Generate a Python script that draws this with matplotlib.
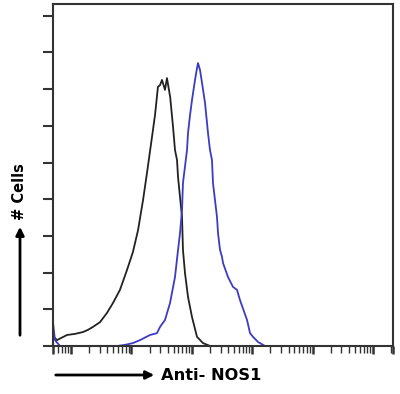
import numpy as np
import matplotlib
matplotlib.use("Agg")
import matplotlib.pyplot as plt

# control (black) histogram: fluorescence value, cell count
ctrl_x = [5.04, 5.86, 8.59, 11.6, 15.8, 19.1, 23.1, 30.2, 39.4, 49.5, 64.7, 84.5,
          106, 129, 156, 181, 219, 246, 275, 298, 321, 360, 388, 439, 489, 527,
          569, 592, 689, 714, 771, 865, 1007, 1219, 1531, 2000, 1e5, 2.14e6]
ctrl_y = [0.27, 0.16, 0.30, 0.33, 0.38, 0.44, 0.52, 0.65, 0.90, 1.17, 1.53, 2.07,
          2.56, 3.16, 3.98, 4.71, 5.69, 6.29, 7.06, 7.11, 7.25, 6.98, 7.30, 6.78, 5.97, 5.34,
          5.07, 4.60, 3.51, 2.62, 1.99, 1.34, 0.79, 0.25, 0.08, 0.0, 0.0, 0.0]

# Anti-NOS1 (blue) histogram
nos_x = [5.04, 5.43, 6.58, 20.7, 30.2, 57.8, 78.3, 106, 139, 203, 265, 298, 360,
         436, 527, 592, 638, 689, 714, 833, 865, 934, 1007, 1130, 1219, 1267,
         1368, 1476, 1656, 1855, 2000, 2158, 2243, 2613, 2716, 2931, 3162, 3287,
         3974, 4809, 5597, 6279, 8204, 9208, 10310, 12470, 16290, 19720, 2.14e6]
nos_y = [0.65, 0.16, 0.0, 0.0, 0.0, 0.0, 0.03, 0.08, 0.16, 0.30, 0.35, 0.52, 0.71,
         1.17, 1.88, 2.62, 3.08, 3.71, 4.44, 5.34, 5.80, 6.29, 6.70, 7.25, 7.57, 7.71,
         7.52, 7.17, 6.62, 5.80, 5.34, 5.07, 4.44, 3.51, 3.08, 2.62, 2.43, 2.26,
         1.88, 1.61, 1.53, 1.25, 0.71, 0.35, 0.25, 0.11, 0.0, 0.0, 0.0]

y_ticks = list(range(10))
x_decades = [10, 100, 1000, 1e4, 1e5, 1e6]
x_min, x_max = 5.04, 2.14e6
y_max = 9.32

fig = plt.figure(figsize=(4.0, 3.94), dpi=100)
ax = fig.add_axes([53/400, 48/394, 340/400, 342/394])

ax.plot(ctrl_x, ctrl_y, color="#222222", lw=1.3)
ax.plot(nos_x, nos_y, color="#3b3bc4", lw=1.3)

ax.set_xscale("log")
ax.set_xlim(x_min, x_max)
ax.set_ylim(0, y_max)

ax.set_xticks([x_min] + x_decades + [x_max])
ax.xaxis.set_minor_locator(matplotlib.ticker.LogLocator(base=10, subs=np.arange(2, 10)))
ax.set_yticks(y_ticks)
ax.tick_params(axis="x", which="major", direction="out", length=6, width=1.8,
               color="#333333", labelbottom=False)
ax.tick_params(axis="x", which="minor", direction="out", length=5, width=1.0,
               color="#333333", labelbottom=False)
ax.tick_params(axis="y", direction="out", length=7, width=1.5, color="#333333",
               labelleft=False)
ax.yaxis.set_minor_locator(matplotlib.ticker.NullLocator())

for s in ax.spines.values():
    s.set_linewidth(1.5)
    s.set_color("#333333")

# axis arrows + labels
fig.add_artist(matplotlib.patches.FancyArrowPatch(
    (20, 394 - 338), (20, 394 - 224), transform=None,
    arrowstyle="-|>", mutation_scale=12, lw=2, color="black"))
fig.text(20/400, (394 - 192)/394, "# Cells", rotation=90, ha="center", va="center",
         fontsize=10.5, fontweight="bold", family="DejaVu Sans")

fig.add_artist(matplotlib.patches.FancyArrowPatch(
    (53, 394 - 375), (157, 394 - 375), transform=None,
    arrowstyle="-|>", mutation_scale=12, lw=2, color="black"))
fig.text(161/400, (394 - 375)/394, "Anti- NOS1", ha="left", va="center",
         fontsize=11.7, fontweight="bold", family="DejaVu Sans")

fig.savefig("out.png", dpi=100)
